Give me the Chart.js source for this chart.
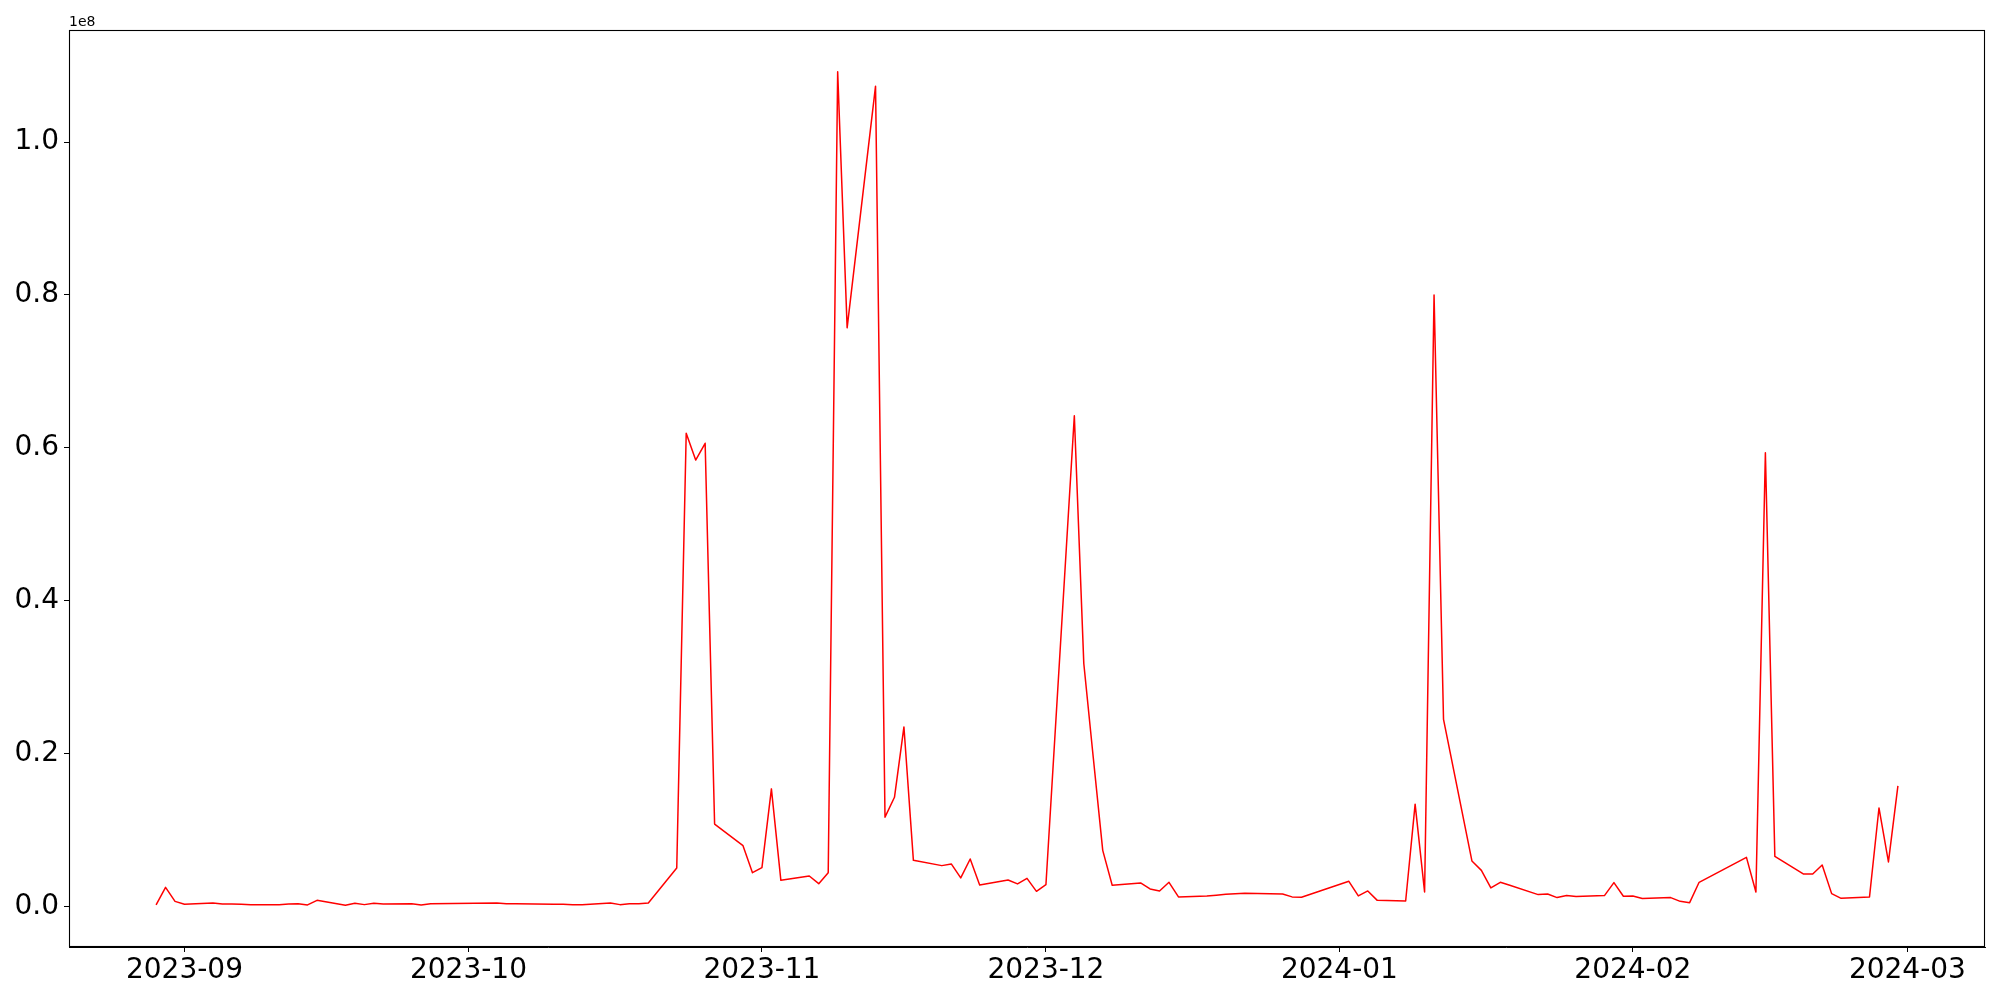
<!DOCTYPE html>
<html><head><meta charset="utf-8">
<script src="https://cdn.jsdelivr.net/npm/chart.js@4"></script>
<style>html,body{margin:0;padding:0;background:#fff}#wrap{width:2000px;height:1000px;position:relative}</style>
</head><body><div id="wrap"><canvas id="c" width="2000" height="1000"></canvas></div>
<script>
const dates = [
'2023-08-29','2023-08-30','2023-08-31','2023-09-01','2023-09-04','2023-09-05','2023-09-06','2023-09-07','2023-09-08',
'2023-09-11','2023-09-12','2023-09-13','2023-09-14','2023-09-15','2023-09-18','2023-09-19','2023-09-20','2023-09-21','2023-09-22',
'2023-09-25','2023-09-26','2023-09-27','2023-10-04','2023-10-05','2023-10-06','2023-10-10','2023-10-11','2023-10-12','2023-10-13',
'2023-10-16','2023-10-17','2023-10-18','2023-10-19','2023-10-20','2023-10-23','2023-10-24','2023-10-25','2023-10-26','2023-10-27',
'2023-10-30','2023-10-31','2023-11-01','2023-11-02','2023-11-03','2023-11-06','2023-11-07','2023-11-08','2023-11-09','2023-11-10',
'2023-11-13','2023-11-14','2023-11-15','2023-11-16','2023-11-17','2023-11-20','2023-11-21','2023-11-22','2023-11-23','2023-11-24',
'2023-11-27','2023-11-28','2023-11-29','2023-11-30','2023-12-01','2023-12-04','2023-12-05','2023-12-06','2023-12-07','2023-12-08',
'2023-12-11','2023-12-12','2023-12-13','2023-12-14','2023-12-15','2023-12-18','2023-12-19','2023-12-20','2023-12-21','2023-12-22',
'2023-12-26','2023-12-27','2023-12-28','2024-01-02','2024-01-03','2024-01-04','2024-01-05','2024-01-08','2024-01-09','2024-01-10',
'2024-01-11','2024-01-12','2024-01-15','2024-01-16','2024-01-17','2024-01-18','2024-01-19','2024-01-22','2024-01-23','2024-01-24',
'2024-01-25','2024-01-26','2024-01-29','2024-01-30','2024-01-31','2024-02-01','2024-02-02','2024-02-05','2024-02-06','2024-02-07',
'2024-02-08','2024-02-13','2024-02-14','2024-02-15','2024-02-16','2024-02-19','2024-02-20','2024-02-21','2024-02-22','2024-02-23',
'2024-02-26','2024-02-27','2024-02-28','2024-02-29'
];
const values = [
220000,2520000,690000,300000,480000,350000,350000,300000,260000,
260000,350000,390000,220000,820000,170000,430000,260000,430000,350000,
390000,220000,390000,480000,390000,390000,300000,300000,260000,260000,
480000,260000,390000,390000,480000,5060000,61900000,58400000,60600000,10800000,
7970000,4440000,5100000,15400000,3440000,4000000,3000000,4440000,109200000,75700000,
107300000,11700000,14300000,23500000,6050000,5360000,5580000,3750000,6230000,2830000,
3490000,2970000,3700000,2000000,2870000,64200000,31800000,19500000,7360000,2790000,
3100000,2310000,2050000,3180000,1270000,1400000,1500000,1610000,1680000,1740000,
1660000,1270000,1220000,3310000,1400000,2050000,820000,740000,13400000,1920000,
80000000,24500000,5970000,4740000,2440000,3180000,2800000,1570000,1660000,1180000,
1440000,1310000,1440000,3140000,1350000,1400000,1050000,1180000,690000,520000,
3180000,6440000,1920000,59350000,6570000,4270000,4270000,5450000,1700000,1080000,
1270000,12900000,5840000,15800000
];
const xTickDates = ['2023-09-01','2023-10-01','2023-11-01','2023-12-01','2024-01-01','2024-02-01','2024-03-01'];
const xTickLabels = ['2023-09','2023-10','2023-11','2023-12','2024-01','2024-02','2024-03'];
const yTickValues = [0, 20000000, 40000000, 60000000, 80000000, 100000000];
const yTickLabels = ['0.0','0.2','0.4','0.6','0.8','1.0'];
const yOffsetLabel = '1e8';

function ts(d){const p=d.split('-').map(Number);return Date.UTC(p[0],p[1]-1,p[2]);}
const xs = dates.map(ts);
const points = xs.map((x,i)=>({x:x,y:values[i]}));
const xMinD = Math.min(...xs), xMaxD = Math.max(...xs);
const yMinD = Math.min(...values), yMaxD = Math.max(...values);
const xm = (xMaxD-xMinD)*0.05, ym = (yMaxD-yMinD)*0.05;

const FONT = "'DejaVu Sans', sans-serif";
const framePlugin = {
  id:'frame',
  afterDraw(chart){
    const a = chart.chartArea, ctx = chart.ctx;
    ctx.save();
    ctx.strokeStyle = '#000'; ctx.lineWidth = 1.1;
    ctx.strokeRect(Math.round(a.left)+0.5, Math.round(a.top)+0.5, Math.round(a.right-a.left)-1, Math.round(a.bottom-a.top)-1);
    ctx.fillStyle = '#000';
    ctx.font = '14px ' + FONT;
    ctx.textAlign = 'left'; ctx.textBaseline = 'alphabetic';
    ctx.fillText(yOffsetLabel, a.left, a.top - 4);
    ctx.restore();
  }
};

new Chart(document.getElementById('c'), {
  type:'line',
  data:{datasets:[{data:points, borderColor:'#ff0000', borderWidth:1.5, pointRadius:0, fill:false, tension:0, borderJoinStyle:'round'}]},
  options:{
    responsive:false, animation:false, devicePixelRatio:1,
    layout:{padding:{top:30,right:15,left:0,bottom:0}},
    plugins:{legend:{display:false}, tooltip:{enabled:false}},
    scales:{
      x:{type:'linear', min:xMinD-xm, max:xMaxD+xm,
        afterBuildTicks:s=>{s.ticks = xTickDates.map(d=>({value:ts(d)}));},
        afterFit:s=>{s.height = 53;},
        ticks:{autoSkip:false, maxRotation:0, padding:2, color:'#000', font:{family:FONT, size:28},
          callback:(v)=>{const i = xTickDates.findIndex(d=>ts(d)===v); return i>=0?xTickLabels[i]:'';}},
        grid:{drawOnChartArea:false, drawTicks:true, tickLength:5, tickColor:'#000', tickWidth:1},
        border:{display:true, color:'#000', width:1}
      },
      y:{type:'linear', min:yMinD-ym, max:yMaxD+ym,
        afterBuildTicks:s=>{s.ticks = yTickValues.map(v=>({value:v}));},
        afterFit:s=>{s.width = 69;},
        ticks:{autoSkip:false, padding:5, color:'#000', font:{family:FONT, size:28},
          callback:(v)=>{const i = yTickValues.indexOf(v); return i>=0?yTickLabels[i]:'';}},
        grid:{drawOnChartArea:false, drawTicks:true, tickLength:5, tickColor:'#000', tickWidth:1},
        border:{display:true, color:'#000', width:1}
      }
    }
  },
  plugins:[framePlugin]
});
</script></body></html>
